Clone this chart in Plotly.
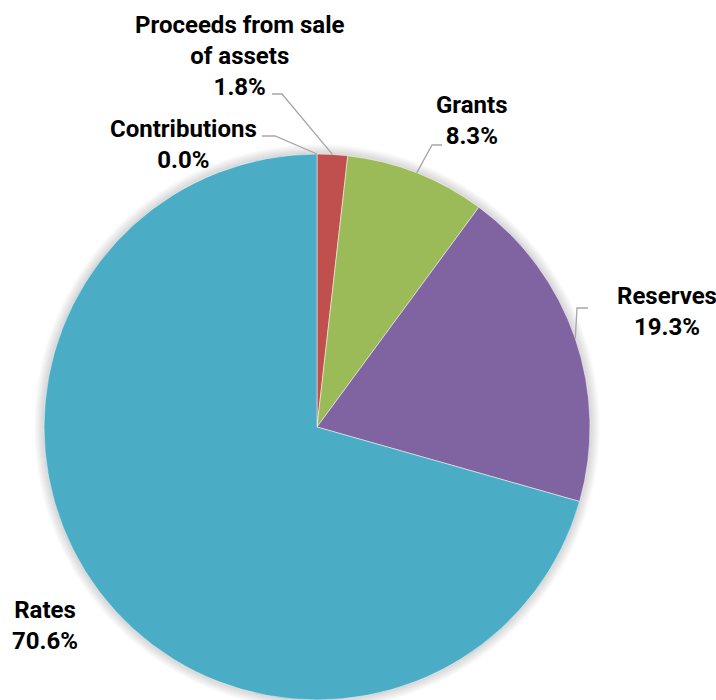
import math
import plotly.graph_objects as go

# Funding sources, listed clockwise from 12 o'clock
sources = ["Contributions", "Proceeds from sale<br>of assets", "Grants", "Reserves", "Rates"]
shares = [0.0, 1.8, 8.3, 19.3, 70.6]
colors = ["#4F81BD", "#C0504D", "#9BBB59", "#8064A2", "#4BACC6"]

W, H = 716, 700
CX, CY, R = 317, 427, 273  # pie centre / radius in pixels (from top-left)

# Label block centres and leader-line elbows (pixels); None = no leader line
label_pos = [(183, 144), (240, 56), (472, 120), (667, 311), (45, 625)]
elbows = [((275, 136), (262, 136)),
          ((282, 94), (272, 94)),
          ((432, 145), (442, 145)),
          ((577, 308), (588, 308)),
          None]


def px(x, y):
    return x / W, 1 - y / H


total = sum(shares)

fig = go.Figure()
fig.add_trace(go.Pie(
    labels=sources,
    values=shares,
    sort=False,
    direction="clockwise",
    rotation=0,
    marker=dict(colors=colors, line=dict(color="white", width=0.5)),
    textinfo="none",
    hoverinfo="label+percent",
    showlegend=False,
    domain=dict(x=[(CX - R) / W, (CX + R) / W], y=[0, 2 * R / H]),
))

shapes = []
# soft drop shadow around the pie
for i in range(10, 0, -1):
    rr = R + i * 1.0
    x0, y0 = px(CX - rr, CY + rr)
    x1, y1 = px(CX + rr, CY - rr)
    shapes.append(dict(type="circle", xref="paper", yref="paper",
                       x0=x0, y0=y0, x1=x1, y1=y1, layer="below",
                       line=dict(width=0), fillcolor="rgba(0,0,0,0.016)"))

annotations = []
cum = 0.0
for name, v, lp, el in zip(sources, shares, label_pos, elbows):
    mid = (cum + v / 2) / total * 2 * math.pi
    cum += v
    ex = CX + R * math.sin(mid)
    ey = CY - R * math.cos(mid)
    if el is not None:
        (bx, by), (tx, ty) = el
        p0, p1, p2 = px(ex, ey), px(bx, by), px(tx, ty)
        shapes.append(dict(type="path", xref="paper", yref="paper",
                           path=f"M {p0[0]},{p0[1]} L {p1[0]},{p1[1]} L {p2[0]},{p2[1]}",
                           line=dict(color="#A6A6A6", width=1.3)))
    lx, ly = px(*lp)
    annotations.append(dict(
        x=lx, y=ly, xref="paper", yref="paper",
        xanchor="center", yanchor="middle", showarrow=False,
        text=f"<b>{name}<br>{v / total * 100:.1f}%</b>",
        font=dict(family="Roboto", size=24, color="#000000"),
        align="center",
    ))

fig.update_layout(
    width=W, height=H,
    margin=dict(l=0, r=0, t=0, b=0),
    paper_bgcolor="white",
    plot_bgcolor="white",
    shapes=shapes,
    annotations=annotations,
)

fig.write_html("out.html")
